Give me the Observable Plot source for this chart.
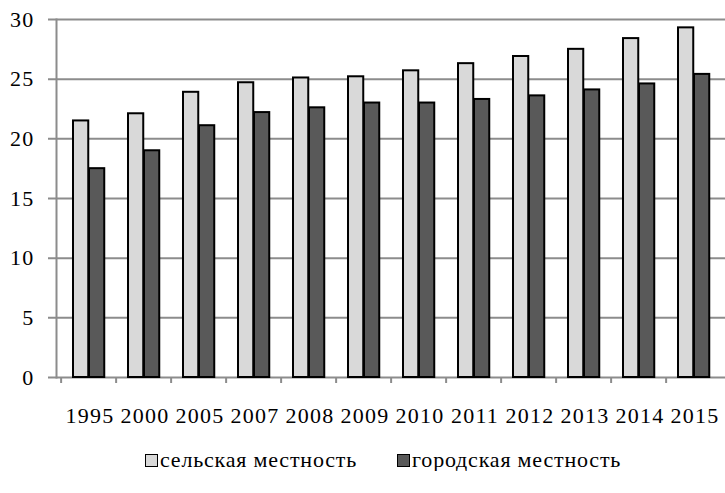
<!DOCTYPE html>
<html>
<head>
<meta charset="utf-8">
<script src="https://cdn.jsdelivr.net/npm/d3@7"></script>
<script src="https://cdn.jsdelivr.net/npm/@observablehq/plot@0.6"></script>
<style>
  html, body { margin: 0; padding: 0; background: #fff; }
  #chart { width: 725px; }
  #chart svg text { font-family: "Liberation Serif", serif !important; font-size: 22px !important; letter-spacing: 1.2px; fill: #000; }
  .legend { display: flex; align-items: center; margin: 9px 0 0 145px; font-family: "Liberation Serif", serif; font-size: 22px; letter-spacing: 0.8px; color: #000; height: 22px; }
  .legend .item { display: flex; align-items: center; }
  .legend .sw { width: 11px; height: 11px; border: 1.5px solid #000; margin-right: 2px; }
</style>
</head>
<body>
<div id="chart"></div>
<script>
const years = ["1995","2000","2005","2007","2008","2009","2010","2011","2012","2013","2014","2015"];
const rural = [21.5, 22.1, 23.9, 24.7, 25.1, 25.2, 25.7, 26.3, 26.9, 27.5, 28.4, 29.3];
const urban = [17.5, 19.0, 21.1, 22.2, 22.6, 23.0, 23.0, 23.3, 23.6, 24.1, 24.6, 25.4];
const seriesNames = ["сельская местность", "городская местность"];
const seriesColors = ["#d9d9d9", "#595959"];
const yTicks = [0, 5, 10, 15, 20, 25, 30];

const W = 725, H = 440, ML = 56, MR = 0;
const step = (W - ML - MR) / years.length;

const ruralData = years.map((y, i) => ({year: y, value: rural[i]}));
const urbanData = years.map((y, i) => ({year: y, value: urban[i]}));

const chart = Plot.plot({
  width: W,
  height: H,
  marginLeft: ML,
  marginRight: MR,
  marginTop: 19,
  marginBottom: 63,
  style: {color: "#000", background: "#fff", overflow: "visible"},
  x: {type: "band", domain: years, padding: 0, label: null},
  y: {domain: [0, 30], label: null},
  marks: [
    Plot.gridY(yTicks, {stroke: "#8c8c8c", strokeOpacity: 1, strokeWidth: 2, insetLeft: -8}),
    Plot.frame({anchor: "left", stroke: "#8c8c8c", strokeWidth: 2}),
    Plot.axisY(yTicks, {tickSize: 0, tickPadding: 22, tickFormat: d => String(d)}),
    Plot.axisX({tickSize: 6, dx: -step / 2, stroke: "#8c8c8c", strokeWidth: 2, tickFormat: () => ""}),
    Plot.axisX({tickSize: 0, tickPadding: 30, dx: 1, tickFormat: d => d}),
    Plot.barY(ruralData, {x: "year", y: "value", fill: seriesColors[0], stroke: "#000", strokeWidth: 2, insetLeft: 12, insetRight: step - 28}),
    Plot.barY(urbanData, {x: "year", y: "value", fill: seriesColors[1], stroke: "#000", strokeWidth: 2, insetLeft: 28, insetRight: step - 44})
  ]
});
document.getElementById("chart").appendChild(chart);

const legend = document.createElement("div");
legend.className = "legend";
seriesNames.forEach((name, i) => {
  const item = document.createElement("div");
  item.className = "item";
  if (i > 0) item.style.marginLeft = "40px";
  const sw = document.createElement("span");
  sw.className = "sw";
  sw.style.background = seriesColors[i];
  const t = document.createElement("span");
  t.textContent = name;
  item.appendChild(sw);
  item.appendChild(t);
  legend.appendChild(item);
});
document.getElementById("chart").appendChild(legend);
</script>
</body>
</html>
